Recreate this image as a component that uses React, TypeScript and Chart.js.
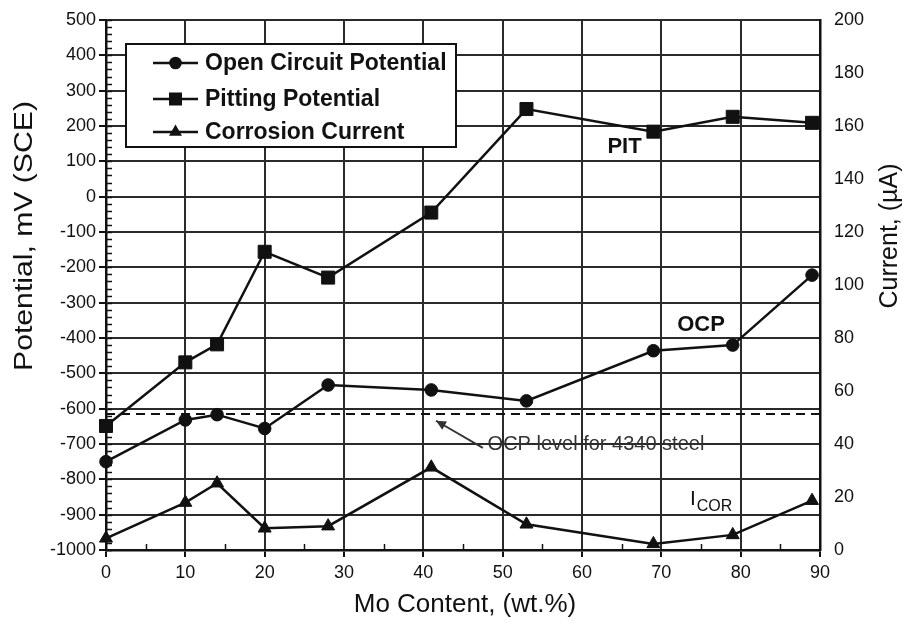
import { useEffect, useRef } from "react";
import { Chart, registerables } from "chart.js";

Chart.register(...registerables);

// ---- data ----
const moContent = [0, 10, 14, 20, 28, 41, 53, 69, 79, 89];
const ocpValues = [-750, -632, -617, -656, -533, -547, -578, -436, -420, -222];
const pitValues = [-649, -469, -418, -156, -229, -45, 248, 184, 226, 209];
const icorValues = [4.4, 17.9, 25.2, 8.2, 9.0, 31.2, 9.7, 2.3, 5.7, 18.6];
const seriesLabels = ["Open Circuit Potential", "Pitting Potential", "Corrosion Current"];
const steelOcpLevel = -615;
const steelOcpText = "OCP level for 4340 steel";

const xAxis = { min: 0, max: 90, step: 10, minorStep: 5, title: "Mo Content, (wt.%)" };
const leftAxis = { min: -1000, max: 500, step: 100, minorStep: 20, title: "Potential, mV (SCE)" };
const rightAxis = { min: 0, max: 200, step: 20, title: "Current, (\u00b5A)" };

// annotation anchors (data coords)
const pitLabel = { text: "PIT", x: 63.2, y: 140 };
const ocpLabel = { text: "OCP", x: 72, y: -363 };
const icorLabel = { main: "I", sub: "COR", x: 73.6, y: -872, subY: -891 };
const arrowTail = { x: 47.5, y: -711 };
const arrowTip = { x: 41.6, y: -634 };
const noteAnchor = { x: 48.1, y: -700 };

const FONT = "'Liberation Sans', Arial, Helvetica, sans-serif";
const INK = "#111";
const GRID = "#2a2a2a";

function drawMarker(ctx: CanvasRenderingContext2D, style: string, r: number, x: number, y: number) {
  ctx.beginPath();
  if (style === "circle") {
    ctx.arc(x, y, r, 0, Math.PI * 2);
  } else if (style === "rect") {
    const s = r * Math.SQRT1_2;
    ctx.rect(x - s, y - s, 2 * s, 2 * s);
  } else {
    let rad = 0;
    ctx.moveTo(x + Math.sin(rad) * r, y - Math.cos(rad) * r);
    rad += (2 * Math.PI) / 3;
    ctx.lineTo(x + Math.sin(rad) * r, y - Math.cos(rad) * r);
    rad += (2 * Math.PI) / 3;
    ctx.lineTo(x + Math.sin(rad) * r, y - Math.cos(rad) * r);
    ctx.closePath();
  }
  ctx.fill();
}

const overlay = {
  id: "overlay",
  beforeDatasetsDraw(chart: any) {
    const { ctx, chartArea: a, scales } = chart;
    const xs = scales.x;
    const ys = scales.y;
    ctx.save();
    ctx.strokeStyle = INK;
    ctx.lineWidth = 1.5;
    for (let v = leftAxis.min; v <= leftAxis.max; v += leftAxis.minorStep) {
      const py = Math.round(ys.getPixelForValue(v)) + 0.5;
      ctx.beginPath();
      ctx.moveTo(a.left, py);
      ctx.lineTo(a.left + 6, py);
      ctx.stroke();
    }
    for (let v = xAxis.min + xAxis.minorStep; v < xAxis.max; v += xAxis.step) {
      const px = Math.round(xs.getPixelForValue(v)) + 0.5;
      ctx.beginPath();
      ctx.moveTo(px, a.bottom);
      ctx.lineTo(px, a.bottom - 6);
      ctx.stroke();
    }
    const dy = ys.getPixelForValue(steelOcpLevel);
    ctx.setLineDash([9, 6]);
    ctx.lineWidth = 2;
    ctx.beginPath();
    ctx.moveTo(a.left, dy);
    ctx.lineTo(a.right + 6, dy);
    ctx.stroke();
    ctx.setLineDash([]);
    const tx = xs.getPixelForValue(arrowTail.x), ty = ys.getPixelForValue(arrowTail.y);
    const hx = xs.getPixelForValue(arrowTip.x), hy = ys.getPixelForValue(arrowTip.y);
    ctx.strokeStyle = "#333";
    ctx.fillStyle = "#333";
    ctx.lineWidth = 1.8;
    ctx.beginPath();
    ctx.moveTo(tx, ty);
    ctx.lineTo(hx, hy);
    ctx.stroke();
    const ang = Math.atan2(hy - ty, hx - tx);
    const L = 11, W = 0.45;
    ctx.beginPath();
    ctx.moveTo(hx, hy);
    ctx.lineTo(hx - L * Math.cos(ang - W), hy - L * Math.sin(ang - W));
    ctx.lineTo(hx - L * Math.cos(ang + W), hy - L * Math.sin(ang + W));
    ctx.closePath();
    ctx.fill();
    ctx.font = `20px ${FONT}`;
    ctx.textAlign = "left";
    ctx.textBaseline = "middle";
    ctx.fillText(steelOcpText, xs.getPixelForValue(noteAnchor.x), ys.getPixelForValue(noteAnchor.y));
    ctx.fillStyle = INK;
    ctx.font = `bold 22px ${FONT}`;
    ctx.fillText(pitLabel.text, xs.getPixelForValue(pitLabel.x), ys.getPixelForValue(pitLabel.y));
    ctx.fillText(ocpLabel.text, xs.getPixelForValue(ocpLabel.x), ys.getPixelForValue(ocpLabel.y));
    ctx.textBaseline = "alphabetic";
    ctx.font = `21px ${FONT}`;
    const ix = xs.getPixelForValue(icorLabel.x);
    ctx.fillText(icorLabel.main, ix, ys.getPixelForValue(icorLabel.y));
    const iw = ctx.measureText(icorLabel.main).width;
    ctx.font = `16px ${FONT}`;
    ctx.fillText(icorLabel.sub, ix + iw + 1, ys.getPixelForValue(icorLabel.subY));
    ctx.restore();
  },
  afterDatasetsDraw(chart: any) {
    const { ctx, chartArea: a } = chart;
    ctx.save();
    const bx = a.left + 20, by = a.top + 24, bw = 330, bh = 103;
    ctx.fillStyle = "#fff";
    ctx.fillRect(bx, by, bw, bh);
    ctx.strokeStyle = INK;
    ctx.lineWidth = 2;
    ctx.strokeRect(bx, by, bw, bh);
    const rows = [19, 55, 88];
    chart.data.datasets.forEach((ds: any, i: number) => {
      const ry = by + rows[i];
      ctx.strokeStyle = INK;
      ctx.lineWidth = 2.5;
      ctx.beginPath();
      ctx.moveTo(bx + 27, ry);
      ctx.lineTo(bx + 72, ry);
      ctx.stroke();
      ctx.fillStyle = INK;
      drawMarker(ctx, ds.pointStyle, ds.pointRadius, bx + 49.5, ry);
      ctx.font = `bold 23px ${FONT}`;
      ctx.textAlign = "left";
      ctx.textBaseline = "middle";
      ctx.fillText(ds.label, bx + 79, ry + 1);
    });
    ctx.restore();
  },
  afterDraw(chart: any) {
    const { ctx } = chart;
    ctx.save();
    ctx.fillStyle = INK;
    ctx.textAlign = "center";
    ctx.textBaseline = "middle";
    ctx.save();
    ctx.font = `26px ${FONT}`;
    ctx.translate(25, 236);
    ctx.rotate(-Math.PI / 2);
    ctx.scale(1.16, 1);
    ctx.fillText(leftAxis.title, 0, 0);
    ctx.restore();
    ctx.save();
    ctx.font = `25px ${FONT}`;
    ctx.translate(890, 236);
    ctx.rotate(-Math.PI / 2);
    ctx.fillText(rightAxis.title, 0, 0);
    ctx.restore();
    ctx.font = `26px ${FONT}`;
    ctx.fillText(xAxis.title, 465, 605);
    ctx.restore();
  },
};

export default function App() {
  const ref = useRef<HTMLCanvasElement>(null);
  useEffect(() => {
    const tickFont = { family: FONT, size: 18 };
    const mk = (label: string, values: number[], style: string, radius: number, axis: string) => ({
      label,
      data: moContent.map((x, i) => ({ x, y: values[i] })),
      yAxisID: axis,
      pointStyle: style,
      pointRadius: radius,
      borderColor: INK,
      backgroundColor: INK,
      pointBackgroundColor: INK,
      pointBorderColor: INK,
      pointBorderWidth: 1,
      borderWidth: 2.5,
      tension: 0,
      clip: false as const,
    });
    const chart = new Chart(ref.current!, {
      type: "line",
      data: {
        datasets: [
          mk(seriesLabels[0], ocpValues, "circle", 6.3, "y"),
          mk(seriesLabels[1], pitValues, "rect", 9.2, "y"),
          mk(seriesLabels[2], icorValues, "triangle", 7.5, "y1"),
        ] as any,
      },
      options: {
        responsive: false,
        animation: false,
        events: [],
        layout: { padding: { top: 20, left: 0, right: 0, bottom: 0 } },
        plugins: { legend: { display: false }, tooltip: { enabled: false } },
        scales: {
          x: {
            type: "linear",
            min: xAxis.min,
            max: xAxis.max,
            ticks: { stepSize: xAxis.step, font: tickFont, color: INK, padding: 5, callback: (v: any) => String(v) },
            grid: { color: GRID, lineWidth: 2, tickLength: 7, tickColor: INK },
            border: { color: INK, width: 2.5 },
            afterFit: (s: any) => { s.height = 83; },
          },
          y: {
            type: "linear",
            position: "left",
            min: leftAxis.min,
            max: leftAxis.max,
            ticks: { stepSize: leftAxis.step, font: tickFont, color: INK, padding: 3, callback: (v: any) => String(v) },
            grid: { color: GRID, lineWidth: 2, tickLength: 7, tickColor: INK },
            border: { color: INK, width: 2.5 },
            afterFit: (s: any) => { s.width = 106; },
          },
          y1: {
            type: "linear",
            position: "right",
            min: rightAxis.min,
            max: rightAxis.max,
            ticks: { stepSize: rightAxis.step, font: tickFont, color: INK, padding: 6, callback: (v: any) => String(v) },
            grid: { display: false },
            border: { display: true, color: INK, width: 2.5 },
            afterFit: (s: any) => { s.width = 91; },
          },
        },
      } as any,
      plugins: [overlay],
    });
    return () => chart.destroy();
  }, []);
  return (
    <div style={{ position: "absolute", left: 0, top: 0, width: 911, height: 633, background: "#fff" }}>
      <canvas ref={ref} width={911} height={633} style={{ display: "block" }} />
    </div>
  );
}
